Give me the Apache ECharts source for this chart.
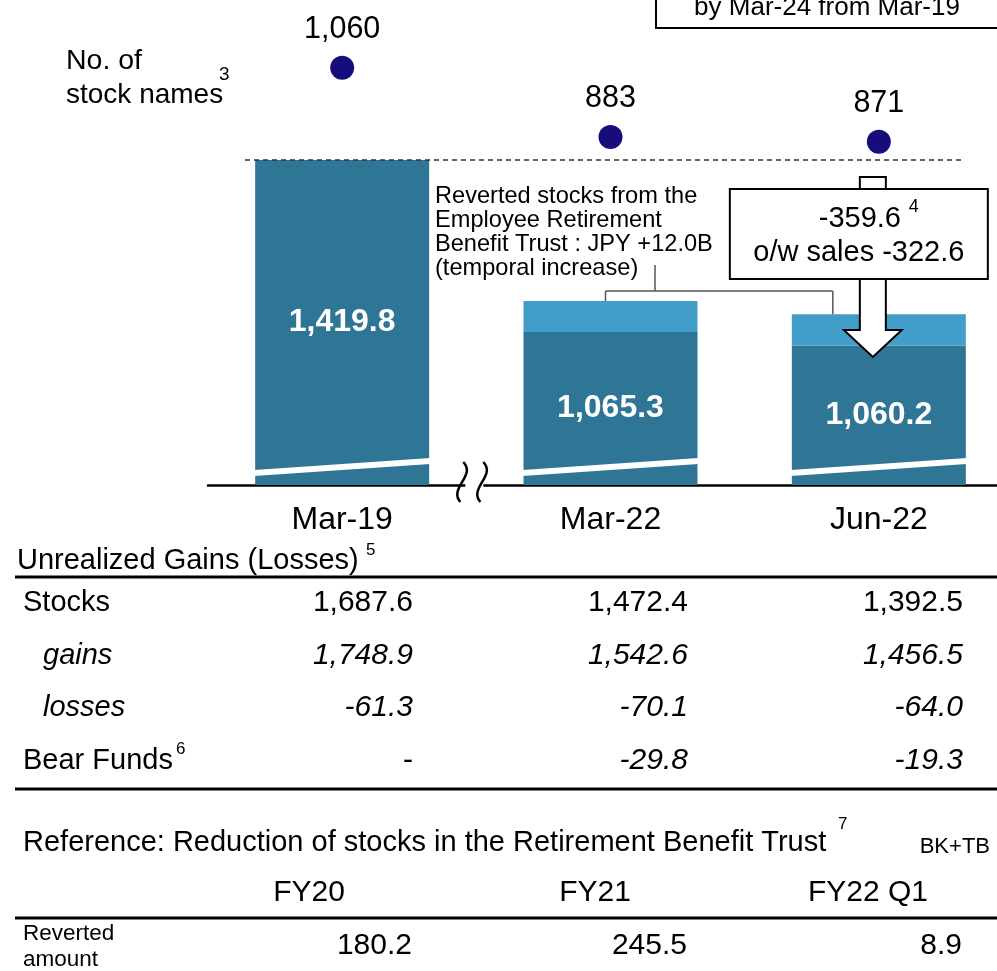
<!DOCTYPE html>
<html>
<head>
<meta charset="utf-8">
<script src="https://cdn.jsdelivr.net/npm/echarts@6/dist/echarts.min.js"></script>
<style>
  html, body { margin: 0; padding: 0; background: #fff; }
  #box1 { width: 997px; height: 971px; }
</style>
</head>
<body>
<div id="box1"></div>
<script>
/* stock holdings chart */
var categories = ['Mar-19', 'Mar-22', 'Jun-22'];
var totals = [1419.8, 1065.3, 1060.2];      // balance (bar label)
var reverted = [0, 12.0, 12.0];             // reverted from retirement benefit trust
var stockNames = [1060, 883, 871];          // no. of stock names (dots)
var reduction = -359.6, sales = -322.6;

var stocksRow = [1687.6, 1472.4, 1392.5];
var gainsRow = [1748.9, 1542.6, 1456.5];
var lossesRow = [-61.3, -70.1, -64.0];
var bearRow = [null, -29.8, -19.3];

var refCols = ['FY20', 'FY21', 'FY22 Q1'];
var refValues = [180.2, 245.5, 8.9];

var FONT = '"Liberation Sans", Arial, sans-serif';
var dark = '#2e7596', light = '#429dc8';

var base = totals.map(function (t, i) { return +(t - reverted[i]).toFixed(1); });

function fmt(v, d) {
    return v.toLocaleString('en-US', {minimumFractionDigits: d, maximumFractionDigits: d});
}

var dom = document.getElementById('box1');
var myChart = echarts.init(dom);

option = {
    animation: false,
    grid: [
        { left: 208, right: -16, top: 150, bottom: 486, outerBoundsMode: 'none' },
        { left: 208, right: -16, top: 40, height: 110, outerBoundsMode: 'none' }
    ],
    xAxis: [
        {
            type: 'category', data: categories, gridIndex: 0,
            axisLine: { lineStyle: { color: '#000', width: 2.5 } },
            axisTick: { show: false },
            axisLabel: { color: '#000', fontSize: 32, fontFamily: FONT, margin: 19 }
        },
        { type: 'category', data: categories, gridIndex: 1, show: false }
    ],
    yAxis: [
        {
            type: 'value', gridIndex: 0, min: 994.5, max: 1423.65,
            breaks: [{ start: 1070, end: 1410, gap: 39.7 }],
            breakArea: { show: false, itemStyle: { opacity: 0, borderWidth: 0 } },
            axisLine: { show: false }, axisTick: { show: false },
            axisLabel: { show: false }, splitLine: { show: false }
        },
        {
            type: 'value', gridIndex: 1, min: 850, max: 1131, show: false,
            splitLine: { show: false }
        }
    ],
    series: [
        {
            name: 'base', type: 'bar', stack: 'bal', barWidth: 174,
            data: base,
            itemStyle: { color: dark },
            label: {
                show: true, position: 'inside', color: '#fff',
                fontSize: 32, fontWeight: 'bold', fontFamily: FONT,
                formatter: function (p) { return fmt(totals[p.dataIndex], 1); }
            }
        },
        {
            name: 'reverted', type: 'bar', stack: 'bal', barWidth: 174,
            data: reverted,
            itemStyle: { color: light }
        },
        {
            // white slanted break stripes near the bottom of the bars
            type: 'custom', z: 5,
            data: categories.map(function (c, i) { return [i, 1000]; }),
            encode: { x: 0, y: 1 },
            renderItem: function (params, api) {
                var cx = api.coord([api.value(0), api.value(1)])[0];
                var yb = params.coordSys.y + params.coordSys.height;
                var hw = 88;
                return {
                    type: 'polygon',
                    shape: { points: [[cx - hw, yb - 9], [cx + hw, yb - 21], [cx + hw, yb - 27], [cx - hw, yb - 15]] },
                    style: { fill: '#fff' }
                };
            }
        },
        {
            name: 'No. of stock names', type: 'scatter', xAxisIndex: 1, yAxisIndex: 1,
            data: stockNames, symbolSize: 24,
            itemStyle: { color: '#170c7b', opacity: 1 },
            label: {
                show: true, position: 'top', distance: 11, color: '#000',
                fontSize: 30.5, fontFamily: FONT,
                formatter: function (p) { return fmt(p.value, 0); }
            }
        }
    ]
};

myChart.setOption(option, true);

// ---- annotations & tables ----
function txt(x, y, s, size, o) {
    o = o || {};
    return {
        type: 'text', x: x, y: y, z: 20,
        style: {
            text: s, fill: o.color || '#000',
            font: (o.italic ? 'italic ' : '') + (o.bold ? 'bold ' : '') + size + 'px ' + FONT,
            align: o.align || 'left', textAlign: o.align || 'left',
            verticalAlign: 'middle', textVerticalAlign: 'middle'
        }
    };
}
function line(x1, y1, x2, y2, w, color, dash) {
    return {
        type: 'line', z: 15,
        shape: { x1: x1, y1: y1, x2: x2, y2: y2 },
        style: { stroke: color || '#000', lineWidth: w, lineDash: dash || null }
    };
}

var px = categories.map(function (c, i) {
    return myChart.convertToPixel({ xAxisIndex: 0, yAxisIndex: 0 }, [i, totals[i]]);
});
var topY = px[0][1];
var els = [];

// dashed reference line at Mar-19 level
els.push(line(245, topY, 965, topY, 1.5, '#333', [5, 4]));

// axis break mark
var bx = (px[0][0] + px[1][0]) / 2 - 3;
els.push({ type: 'rect', z: 16, shape: { x: bx - 8, y: 480, width: 18, height: 10 }, style: { fill: '#fff' } });
[bx - 10, bx + 10].forEach(function (x) {
    els.push({
        type: 'bezierCurve', z: 17,
        shape: { x1: x, y1: 462, x2: x - 3, y2: 502, cpx1: x + 13, cpy1: 476, cpx2: x - 15, cpy2: 488 },
        style: { stroke: '#000', lineWidth: 2.5, fill: null }
    });
});

// no. of stock names label
els.push(txt(66, 61, 'No. of', 28.5));
els.push(txt(66, 95, 'stock names', 28));
els.push(txt(219, 75, '3', 19));

// reverted stocks bracket
var bl = px[1][0] - 5, br = px[2][0] - 46, bm = 655, by = 291;
['Reverted stocks from the', 'Employee Retirement',
 'Benefit Trust : JPY +' + fmt(reverted[1], 1) + 'B', '(temporal increase)'].forEach(function (s, i) {
    els.push(txt(435, 196 + i * 24, s, 23.6));
});
els.push(line(bm, 265, bm, by, 1.5, '#555'));
els.push(line(bl, by, br, by, 1.5, '#555'));
els.push(line(bl, by, bl, px[1][1], 1.5, '#555'));
els.push(line(br, by, br, px[2][1], 1.5, '#555'));

// reduction arrow and box
var ax = px[2][0] - 6;
els.push({
    type: 'polygon', z: 18,
    shape: { points: [[ax - 13, 177], [ax + 13, 177], [ax + 13, 330], [ax + 29, 330], [ax, 357], [ax - 29, 330], [ax - 13, 330]] },
    style: { fill: '#fff', stroke: '#000', lineWidth: 2 }
});
els.push({
    type: 'rect', z: 19,
    shape: { x: ax - 143, y: 189, width: 258, height: 90 },
    style: { fill: '#fff', stroke: '#000', lineWidth: 2 }
});
els.push(txt(ax - 13, 219, fmt(reduction, 1), 29, { align: 'center' }));
els.push(txt(ax + 41, 207, '4', 18, { align: 'center' }));
els.push(txt(ax - 14, 253, 'o/w sales ' + fmt(sales, 1), 29, { align: 'center' }));

// top-right target box (partly cut off)
els.push({ type: 'rect', z: 19, shape: { x: 656, y: -10, width: 360, height: 38 }, style: { fill: '#fff', stroke: '#000', lineWidth: 2 } });
els.push(txt(827, 8, 'by Mar-24 from Mar-19', 26, { align: 'center' }));

// unrealized gains table
var colR = [413, 688, 963];
els.push(txt(17, 561, 'Unrealized Gains (Losses)', 29));
els.push(txt(366, 550, '5', 17));
els.push(line(15, 577, 1000, 577, 3));
var rows = [
    { label: 'Stocks', x: 23, vals: stocksRow, y: 603, italic: false },
    { label: 'gains', x: 43, vals: gainsRow, y: 656, italic: true, labelItalic: true },
    { label: 'losses', x: 43, vals: lossesRow, y: 708, italic: true, labelItalic: true },
    { label: 'Bear Funds', x: 23, vals: bearRow, y: 761, italic: true }
];
rows.forEach(function (r) {
    els.push(txt(r.x, r.y, r.label, 29, { italic: r.labelItalic }));
    r.vals.forEach(function (v, i) {
        els.push(txt(colR[i], r.y, v == null ? '-' : fmt(v, 1), 30, { align: 'right', italic: r.italic && v != null }));
    });
});
els.push(txt(176, 749, '6', 17));
els.push(line(15, 789, 1000, 789, 3));

// reference table
els.push(txt(23, 843, 'Reference: Reduction of stocks in the Retirement Benefit Trust', 29));
els.push(txt(838, 824, '7', 17));
els.push(txt(990, 847, 'BK+TB', 22, { align: 'right' }));
var refCx = [309, 595, 868];
refCols.forEach(function (c, i) { els.push(txt(refCx[i], 893, c, 30, { align: 'center' })); });
els.push(line(15, 918, 1000, 918, 3));
els.push(txt(23, 934, 'Reverted', 22.5));
els.push(txt(23, 960, 'amount', 22.5));
refValues.forEach(function (v, i) { els.push(txt(colR[i] - 1, 946, fmt(v, 1), 30, { align: 'right' })); });

myChart.setOption({ graphic: { elements: els } });
</script>
</body>
</html>
